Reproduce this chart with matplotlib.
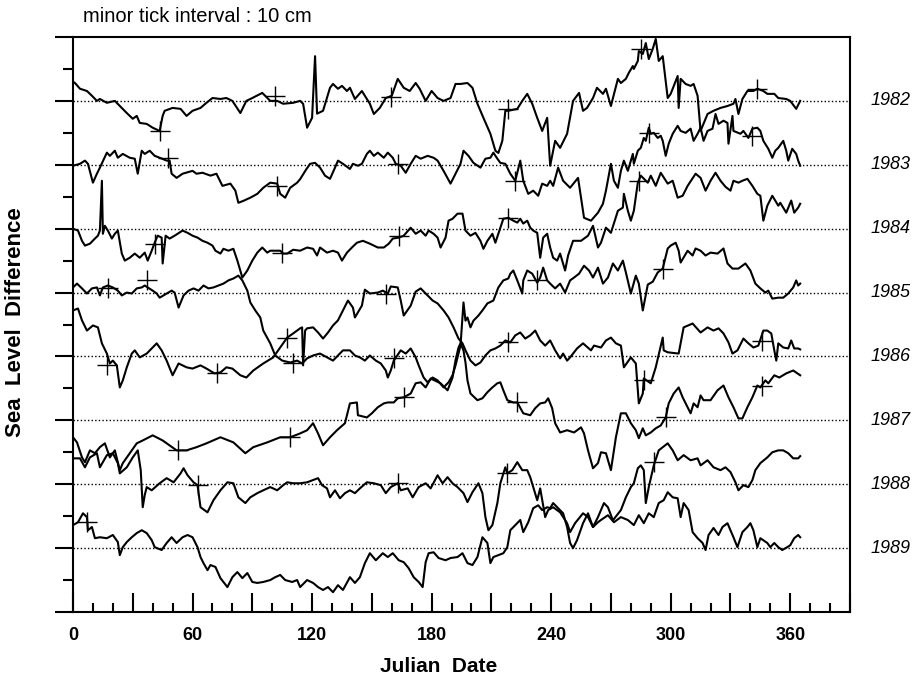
import numpy as np
import matplotlib
matplotlib.use("Agg")
import matplotlib.pyplot as plt
import matplotlib.transforms as mtransforms

plt.rcParams['font.family'] = ['Liberation Sans', 'DejaVu Sans']

# sea level difference (cm) against julian day, one list of (day, cm) per year
y1982 = [(0, 6.0), (1, 5.6), (3.5, 3.8), (7, 3.1), (9.5, 1.6), (12, 0), (13.5, 0.6), (17, -0.6), (21, 0),
         (23.5, -1.6), (27, -3.8), (30, -5.6), (32, -4.7), (33.5, -6.9), (37, -7.2), (40, -8.4), (43.5, -9.4),
         (45, -4.7), (46, -3.1), (50, -2.2), (54, -2.5), (57, -4.7), (60, -3.1), (64, -2.2), (67, -0.6),
         (70, 0.9), (74, 0.6), (77, 0.9), (80, 0), (84, -3.8), (87, 0), (90, 0.9), (95, 2.5), (99, 0),
         (102.5, 0), (105.5, -0.9), (110.5, -0.6), (114, 0), (115.5, -0.9), (117.5, -8.4), (120, -5.3),
         (121.5, 14), (122.5, -4), (125.5, -3.1), (129, 4.1), (130.5, 5.3), (133, 3.8), (135, 4.7),
         (137.5, 3.1), (139, 4.1), (141.5, 0.6), (145, 3.1), (146.5, 1.6), (149, -0.9), (151, -4.1),
         (154, -2.2), (157, 0.9), (160, 1.6), (163, 6.9), (166, 4.1), (169, 3.1), (172, 5.6), (174, 3.8),
         (177, 0), (180, 3.1), (183, 0.9), (186, 0), (189.5, 0.9), (192, 5.3), (194.5, 5.3), (198, 5.6),
         (200.5, 4.1), (203, -0.9), (206, -5.3), (209.5, -10.3), (212, -15.6), (213.5, -16.3), (215.5, -12.5),
         (217, -3.1), (218.5, -3.1), (223, -2.5), (225.5, 0), (228, 2.2), (230.5, -0.9), (233, -5.3),
         (235.5, -9.4), (238, -5.3), (239.5, -20.3), (242, -12.5), (244.5, -14.7), (248, -10.3), (251, 0),
         (254, 2.5), (256, -3.1), (258, -2.2), (261, 0.9), (263, 4.1), (266, 2.2), (267.5, 3.8), (270, -1.6),
         (273.5, 6.9), (275, 5.6), (277.5, 6.9), (279, 8.8), (281, 10.9), (281.5, 10), (283.5, 12.5),
         (284, 15.6), (286, 14.7), (287.5, 18.1), (289, 13.1), (291, 16.3), (292.5, 19.4), (294, 12.5),
         (296, 14), (298.5, 0.9), (300, 2.2), (303.5, 7.8), (304, -2.2), (305, 6.9), (307.5, 5.3), (310, 4.7),
         (311.5, 5.3), (313.5, 1.6), (315, -9.4), (318.5, -4.1), (321.5, -3.1), (325, -2.2), (328.5, -1.6),
         (331.5, -0.9), (332.5, 0.6), (334, -4.1), (336, 0.6), (338.5, 3.1), (341.5, 3.1), (343.5, 3.8),
         (346.5, 3.1), (348.5, 2.2), (352, 2.2), (354, 0.9), (358, 0.6), (360, 0), (363, -2.5), (365, 0)]

y1983 = [(0, -0.3), (3.5, 0.3), (6, 1.3), (7.5, 0.3), (10, -5.6), (12, -2.8), (13.5, -0.9), (17, 3.8),
         (18.5, 2.8), (21, 4.4), (22.5, 2.2), (25, 3.4), (28.5, 2.2), (31, 1.9), (32.5, -2.8), (34.5, 4.4),
         (36, 3.4), (38.5, 4.4), (41, 2.8), (43.5, 2.2), (47, 1.3), (48.5, 1.3), (49.5, -2.8), (52, -4.1),
         (55, -2.8), (60, -1.9), (62, -2.8), (65, -2.5), (69, -3.4), (72, -2.8), (75, -6.6), (79, -5.9),
         (81.5, -8.1), (83, -11.9), (85.5, -11.3), (89, -10.3), (92.5, -9.1), (95.5, -7.2), (99, -5.6),
         (102.5, -5.9), (104, -9.1), (106.5, -10.3), (109, -7.2), (112.5, -5.6), (114, -4.5), (117, -1.5),
         (119, 0.3), (121.5, 0.6), (124, -0.9), (126.5, -3.4), (129, -4.4), (131.5, -0.9), (133, 1.3),
         (135.5, 0.3), (139, -1.3), (140.5, 0.3), (143, -0.3), (145, 0.3), (147.5, 3.4), (149, 4.4),
         (151, 2.8), (153, 3.8), (156, 2.2), (158, 3.8), (160.5, 2.2), (162, 0.3), (164.5, -0.3), (167, -2.5),
         (169.5, 0.3), (172, 2.8), (174.5, 1.9), (178, 2.8), (181, 2.2), (183, 1.3), (186, -1.9), (189.5, -5.9),
         (192, -2.8), (194.5, 0.3), (196, 4.4), (198.5, 2.8), (201, 0.6), (204.5, -0.9), (207, 1.9),
         (209.5, 2.2), (211, 3.8), (213, 1.9), (214.5, 0.6), (217, 0.3), (219.5, -2.8), (222, -5), (224.5, 1.3),
         (226, -5), (228.5, -9.1), (231, -8.1), (233.5, -9.7), (235.5, -5.9), (238, -6.6), (239.5, -5),
         (241, -6.6), (243.5, -0.9), (246, -5), (249.5, -7.2), (253.5, -4.1), (256.5, -16.6), (260, -17.5),
         (263.5, -15), (266, -12.2), (267.5, -8.1), (270, 0.3), (271.5, -5), (273.5, -7.2), (275, -1.9),
         (276.5, 1.3), (278.5, -1.9), (281, 3.4), (281.5, 0.3), (283.5, 4.4), (285, 5.3), (286.5, 8.4),
         (287.5, 7.5), (289, 11.6), (290, 9.7), (291.5, 10), (293.5, 8.4), (295, 9.1), (296, 7.5), (297.5, 2.8),
         (299, 6.6), (301, 9.7), (303.5, 12.2), (305, 10.6), (307.5, 10), (310, 11.3), (311.5, 7.5),
         (313.5, 9.7), (315, 11.6), (316.5, 7.5), (318.5, 10.6), (321, 11.3), (322.5, 15.9), (324, 12.8),
         (326.5, 13.8), (328.5, 13.1), (329, 6.6), (331, 15.3), (331.5, 10.6), (335, 9.7), (336.5, 10.6),
         (339, 8.4), (341, 11.3), (343.5, 11.6), (345, 10.6), (346.5, 7.5), (349, 5), (351, 2.2), (352.5, 4.4),
         (354, 5.3), (356.5, 7.5), (358, 4.4), (359, 1.3), (361, 5), (363, 3.4), (364, 1.3), (365, -0.3)]

y1984 = [(0, 0), (2.5, -0.6), (4.5, -3.8), (6, -5.3), (8.5, -4.7), (11, -3.1), (12.5, -2.2), (13.5, -0.6),
         (14.5, 15), (15, -1.6), (16, 0.9), (17.5, -0.6), (19.5, -3.1), (21, -1.6), (22.5, -0.6), (24.5, -7.8),
         (26, -10), (28.5, -9.1), (31, -7.8), (33.5, -9.1), (36, -7.5), (37.5, -10), (39.5, -6.9), (41, -4.4),
         (42.5, -2.2), (44.5, -2.8), (45, -10.9), (46.5, -2.2), (48.5, -3.1), (51, -2.2), (55, -0.6),
         (57.5, -1.3), (60, -2.2), (62.5, -2.8), (65, -3.8), (67.5, -4.4), (70, -5.3), (71.5, -6.9), (74, -7.8),
         (75.5, -6.3), (78, -6.9), (80.5, -6.3), (82.5, -10), (85, -15.3), (87.5, -13.1), (90, -10),
         (92.5, -7.5), (95, -5.9), (97.5, -7.5), (99, -6.9), (101.5, -6.9), (104, -6.9), (105.5, -7.8),
         (107.5, -7.8), (110.5, -6.6), (114, -6.9), (117.5, -5.9), (120.5, -6.3), (122.5, -8.4), (124, -5.9),
         (127.5, -7.5), (130.5, -6.9), (133, -7.5), (135, -10), (137.5, -7.5), (140, -5.9), (142.5, -4.4),
         (145.5, -3.8), (149, -4.7), (153, -5.9), (156, -5.9), (158.5, -4.7), (160.5, -3.1), (163.5, -2.8),
         (166, -2.2), (169.5, 0.3), (172, -1.6), (174.5, -0.6), (177, -2.2), (178.5, -0.6), (181, -1.6),
         (183, -2.8), (184.5, -5.9), (187, -2.8), (188.5, 2.5), (190.5, 3.1), (193, 4.7), (195.5, 4.7),
         (197, -0.6), (199.5, -2.2), (202, -1.3), (204.5, -3.8), (206, -6.3), (208, -3.8), (210.5, -1.6),
         (212, -4.4), (214.5, 0.3), (216, 3.1), (218.5, 3.4), (221, 2.5), (223, 1.9), (224.5, 3.1), (226, 1.6),
         (228, 2.5), (229.5, 0.3), (231, -0.6), (233, -1.3), (234.5, -9.1), (236, -2.8), (238, -1.6),
         (239.5, -5.9), (241, -9.1), (243, -10), (244.5, -7.8), (247, -13.1), (248.5, -8.4), (251, -3.8),
         (255, -3.8), (258.5, -2.2), (261, 0.9), (263.5, -5.9), (265, -4.4), (267.5, 0.3), (270, -1.3),
         (273.5, 5.6), (276, 6.6), (276.5, 10.9), (278.5, 5.6), (280, 2.5), (281.5, 5.6), (283.5, 14.4),
         (285, 16.6), (288.5, 14.4), (290, 16.6), (292.5, 13.4), (295, 17.5), (298.5, 14.1), (301, 15),
         (303.5, 9.7), (306, 10.3), (308.5, 13.4), (312.5, 17.2), (315, 15.9), (317.5, 11.9), (320, 15),
         (322.5, 17.5), (325, 15), (327.5, 13.1), (330, 11.9), (331.5, 15), (334, 14.4), (336, 15),
         (338.5, 15.6), (341, 13.4), (343.5, 10.9), (345, 10.3), (346.5, 2.5), (348.5, 7.2), (351, 10.3),
         (354, 7.2), (355, 8.1), (358, 5), (360.5, 8.8), (362, 5), (364, 6.6), (365, 7.8)]

y1985 = [(0, 1.6), (2, 2.8), (4.5, 1.3), (7, -0.3), (9.5, 1.3), (12, 1.6), (13.5, -0.9), (15, 1.6), (17.5, 2.2),
         (20, 1.6), (22.5, 0.6), (24.5, -0.9), (27, 0), (29.5, -0.3), (32, 1.3), (34.5, 1.6), (36, 2.2),
         (37.5, 1.6), (40, 0.6), (42, -0.3), (43.5, -1.6), (47, -0.3), (49.5, 0.6), (51, 0), (53, -4.7),
         (55.5, -0.9), (58, 0.6), (60.5, 1.3), (63, 0.6), (65.5, 2.2), (68, 1.3), (70.5, 1.6), (73, 2.2),
         (75.5, 2.8), (78, 3.8), (80.5, 4.4), (83, 5.3), (85, 3.8), (87.5, 0.6), (89, -3.1), (91.5, -5.6),
         (94, -7.8), (95.5, -11.9), (99, -15.9), (101.5, -19.7), (105, -21.3), (109, -21.9), (112.5, -21.3),
         (115, -22.2), (117.5, -20.6), (120.5, -19.7), (124, -19.1), (127.5, -20.3), (130.5, -21.3),
         (133, -19.7), (135.5, -18.1), (139, -18.1), (141.5, -19.7), (144, -20.3), (146.5, -21.3), (149, -19.7),
         (152, -21.3), (154.5, -22.2), (157, -24.4), (158, -26.6), (159.5, -24.4), (161, -21.3), (164.5, -18.1),
         (167, -19.1), (169.5, -17.5), (172, -20.3), (173.5, -22.8), (176, -26.6), (178, -28.1), (180.5, -26.6),
         (183, -27.5), (186, -29.7), (188.5, -28.1), (190.5, -25.9), (192, -22.8), (194.5, -16.6), (196, -3.1),
         (197, -8.8), (198, -7.8), (199.5, -10.9), (201, -8.8), (203.5, -7.2), (205.5, -5.6), (208, -3.4),
         (211, -2.5), (213.5, 1.6), (216, 3.8), (218.5, 4.4), (219.5, 5.9), (221, 6.9), (223, 3.8), (224.5, 1.3),
         (225.5, -0.3), (226, 3.8), (228, 6.9), (230.5, 5.9), (233, 3.1), (234.5, 4.7), (236, 7.8), (238, 3.8),
         (239.5, 2.8), (242, 1.3), (244.5, 2.8), (247, 0), (249.5, 3.8), (251.5, 4.7), (254, 5.9), (256.5, 8.4),
         (259, 6.9), (261, 4.7), (263.5, 7.8), (266, 2.8), (268.5, 4.7), (271, 9.1), (273.5, 6.9), (276, 10),
         (277.5, 6.3), (280, -0.3), (282.5, 5.3), (284, 2.8), (286, -5.6), (288.5, 2.5), (291, 3.4),
         (293.5, 6.3), (296, 7.5), (298.5, 13.8), (300, 14.7), (302.5, 15.6), (304, 13.1), (305, 9.4),
         (308.5, 13.1), (311, 11.6), (312.5, 13.8), (315, 13.1), (317.5, 11.6), (320, 12.5), (323.5, 12.2),
         (326.5, 13.8), (328.5, 9.1), (331, 7.5), (334, 7.5), (337.5, 9.1), (340, 6.9), (342.5, 2.8), (345, 1.3),
         (347.5, 0), (349, 0.6), (351, -1.9), (354, -1.6), (356.5, -1.6), (359, -0.3), (361.5, 1.6), (363, 3.8),
         (364, 2.2), (365, 2.8)]

y1986 = [(0, 14.4), (2.5, 15), (4.5, 11.3), (7, 8.1), (10, 9.7), (12.5, 9.1), (14.5, 4.1), (17, 0.9),
         (18.5, -2.2), (20, -1.3), (22, -2.8), (23.5, -9.7), (25, -7.5), (27, -3.4), (29.5, 0.9), (31, 1.9),
         (33.5, -0.3), (37, 0.9), (40, 2.8), (42, 4.1), (44.5, 1.9), (47, -1.3), (50, -5.9), (53, -2.2),
         (57, -3.4), (60, -3.8), (64, -2.8), (67, -3.8), (71, -5.3), (74, -5), (77, -3.4), (80, -3.8), (84, -5.9),
         (87, -6.6), (90.5, -4.4), (95.5, -2.2), (100.5, -0.3), (104, 2.8), (107.5, 5.9), (110.5, 7.2),
         (114, 8.8), (115, 9.1), (115.5, -2.8), (116.5, 8.1), (117.5, 8.8), (120.5, 9.1), (123, 7.5),
         (125.5, 5.6), (128, 7.5), (130.5, 9.7), (133, 11.3), (135.5, 14.4), (138, 17.5), (140.5, 15.3),
         (141.5, 12.2), (145, 15.9), (146.5, 20.9), (149, 19.7), (153, 20), (155.5, 20.6), (158, 19.7),
         (159.5, 21.9), (163, 21.6), (164.5, 17.5), (166, 12.8), (169.5, 15.9), (172, 20.3), (174.5, 21.3),
         (177, 19.7), (180.5, 17.5), (183, 16.6), (186, 14.4), (188.5, 12.2), (191, 9.1), (193.5, 5.6),
         (195.5, 4.1), (197, 1.9), (199.5, -1.3), (202, -2.8), (204.5, -1.9), (207, 0.3), (209.5, 1.9),
         (212, 2.5), (214.5, 3.4), (217, 5), (219.5, 4.4), (222, 6.6), (224.5, 7.5), (227, 5.6), (229.5, 6.6),
         (232, 8.1), (234.5, 5), (237, 3.4), (239.5, 5), (242, 1.9), (244.5, -0.6), (246, 0.9), (248, -1.3),
         (249.5, -0.3), (253, 2.5), (256, 4.1), (260, 1.9), (261.5, 3.4), (265, 2.8), (267.5, 5), (270, 5.9),
         (272.5, 4.1), (275, 3.4), (276.5, -3.4), (280, -0.3), (282.5, -2.2), (284, -14.7), (286, -11.6),
         (286.5, -6.9), (290, -8.4), (292.5, -3.4), (296, 5.9), (296.5, 1.9), (298.5, 1.3), (304, 0.9),
         (306.5, 9.1), (311, 10.3), (315, 7.5), (318.5, 9.1), (321.5, 8.1), (324, 8.8), (326.5, 7.2), (329, 4.4),
         (331, 0.9), (333.5, 1.9), (336.5, 5.6), (339, 4.1), (341.5, 2.8), (344, 3.4), (346.5, 8.1), (348.5, 8.1),
         (350.5, 7.2), (352, 1.9), (353, -1.3), (354, 4.1), (356.5, 2.8), (359, 2.5), (360.5, 5), (362, 2.5),
         (364, 2.5), (365, 2.2)]

y1987 = [(0, -5.3), (2, -6.9), (4.5, -11.6), (6, -13.1), (8.5, -9.4), (11, -10.3), (13.5, -8.4), (16, -7.2),
         (18.5, -11.6), (21, -9.4), (23.5, -15.6), (25, -13.4), (28.5, -10.3), (32, -7.2), (35, -6.3),
         (40, -4.7), (45, -6.3), (52, -9.4), (57, -9.4), (62, -8.4), (67, -7.2), (74, -5.3), (80.5, -6.9),
         (86.5, -10.3), (90.5, -8.4), (97.5, -6.9), (104, -5.3), (109, -5.3), (114, -4.1), (117.5, -3.1),
         (120.5, -0.9), (123, -4.1), (125.5, -7.8), (129, -5.3), (132.5, -3.1), (136.5, -0.9), (139, 5.3),
         (142.5, 5.6), (143, 1.6), (147.5, 0.9), (150, 2.2), (153, 4.1), (156, 5.3), (158, 5.6), (161, 5.6),
         (163, 6.9), (166, 7.2), (169.5, 8.4), (172, 11.6), (174.5, 11.9), (177, 10.3), (179.5, 13.1),
         (184.5, 11.6), (188, 9.4), (190.5, 13.4), (192, 18.8), (193.5, 22.8), (194.5, 24.1), (196, 21.9),
         (197, 18.1), (198, 12.5), (199.5, 8.4), (203, 6.3), (205.5, 6.9), (208, 8.8), (210.5, 10.3), (213, 11.6),
         (214.5, 11.9), (216, 9.4), (218, 6.3), (221, 5.6), (223, 5.6), (226, 2.2), (229.5, 1.6), (232, 3.8),
         (234.5, 5.3), (237, 5.6), (238.5, 6.9), (240.5, 3.8), (242, -0.9), (244.5, -3.8), (248, -3.1),
         (251.5, -3.8), (255, -2.2), (256.5, -4.1), (258.5, -9.4), (261, -15), (263.5, -13.4), (265, -10),
         (267.5, -10.3), (270, -15.6), (272.5, -5.3), (275, 2.2), (277.5, 2.2), (280, -0.9), (282.5, -3.1),
         (284, -5.6), (286, -2.5), (287.5, -4.7), (290, -3.8), (292.5, -2.5), (295, -1.6), (297.5, 0.9),
         (299, 5.3), (301.5, 8.4), (304, 10.3), (306, 7.2), (307.5, 5.3), (310, 2.2), (311.5, 5.3), (313.5, 4.1),
         (315, 7.8), (316.5, 6.3), (320, 6.3), (323.5, 9.4), (326.5, 10.9), (329, 7.2), (331.5, 4.1),
         (334, 0.6), (336, 0.6), (338.5, 4.1), (341, 7.2), (343.5, 10.9), (345, 10.3), (347.5, 12.5),
         (349, 11.6), (352, 14.1), (354.5, 13.4), (358, 14.7), (361.5, 15.6), (365, 14.1)]

y1988 = [(0, 8.1), (3.5, 8.1), (6, 5.3), (8.5, 8.4), (12, 9.7), (13.5, 5.3), (17, 9.1), (20, 9.7), (22.5, 6.6),
         (23.5, 3.4), (27, 5.3), (30, 8.4), (32.5, 10.6), (34, 4.4), (35, -7.2), (36, -3.4), (37, -0.9),
         (39.5, -1.9), (43.5, 0.3), (47, 1.9), (50.5, 0.6), (54, 3.4), (55.5, 5), (57.5, 2.8), (60.5, 0.6),
         (62.5, -0.3), (64, -7.2), (67.5, -8.8), (70.5, -5), (74, -1.9), (77.5, 0.6), (80.5, 0.3), (83, -4.1),
         (86.5, -5.9), (89, -4.1), (92.5, -2.8), (95.5, -1.9), (99, -0.9), (102.5, -1.9), (105.5, -0.3),
         (107.5, 0.6), (110.5, 0.3), (114, 0.3), (117.5, 0.6), (120.5, 1.3), (123, 1.9), (125, -0.3),
         (127.5, -1.3), (129, -4.1), (131.5, -1.9), (134, -4.4), (136.5, -2.8), (139, -1.9), (141.5, -2.8),
         (144, -1.3), (147.5, 0.6), (151, 0.3), (154.5, -0.3), (157, -2.8), (159.5, -0.9), (163, 0.3),
         (164.5, -1.9), (168, -1.3), (170.5, -4.1), (173.5, -0.9), (177, 0.3), (179.5, -1.3), (183, 2.8),
         (185.5, 0.3), (188, 2.2), (190.5, 0.3), (193, -0.9), (196, -2.8), (198, -5.6), (200.5, -2.5),
         (203.5, 0.3), (205.5, -2.8), (207, -10.3), (208.5, -14.4), (210.5, -12.8), (213, -5.9), (214.5, 0.3),
         (217, 5.3), (218, 3.4), (220.5, 4.4), (223, 6.9), (225.5, 4.4), (228, 4.4), (229.5, 2.2), (231, -0.9),
         (233, -5), (234.5, -1.3), (237, -10.3), (238.5, -8.1), (241, -7.2), (244.5, -8.8), (248, -12.2),
         (249.5, -15), (252, -12.2), (256, -9.1), (258.5, -10.3), (261, -13.4), (263.5, -10.3), (266.5, -5.9),
         (268.5, -7.2), (271, -11.3), (275, -8.1), (277.5, -4.1), (280, -0.9), (281.5, 0.3), (283.5, 5),
         (285, 5.9), (286.5, 4.4), (287.5, -5.9), (289, -0.9), (291.5, 5.9), (294, 10.6), (298.5, 12.8),
         (301, 10.6), (303.5, 7.5), (306.5, 9.1), (310, 7.5), (313.5, 8.1), (315, 5.9), (318.5, 7.5),
         (321.5, 5.3), (325, 4.4), (327.5, 5.3), (330, 3.8), (332.5, 0.6), (334, -1.9), (336.5, -0.3),
         (339, -0.9), (341, 1.3), (342.5, 4.4), (345, 6.6), (348.5, 8.4), (351, 10), (354, 10.6), (356.5, 10.6),
         (359, 9.7), (361.5, 8.1), (364, 8.1), (365, 8.8)]

y1989 = [(0, 7.2), (2.5, 8.1), (5, 10.9), (7, 9.7), (7.5, 5.6), (9.5, 6.6), (11, 3.1), (13.5, 3.4), (17, 3.1),
         (20, 4.1), (22.5, 1.9), (23.5, -2.2), (25, 0.3), (27, 1.9), (29.5, 3.4), (32, 4.7), (34.5, 5.6),
         (37, 4.7), (39.5, 2.5), (41, 0.3), (44.5, -0.6), (47, 1.6), (49.5, 3.4), (52, 1.6), (55, 3.4),
         (57.5, 4.1), (60, 3.4), (62.5, 0.3), (64, -2.8), (65.5, -4.7), (67.5, -6.9), (69, -5.3), (71.5, -5.9),
         (74, -9.4), (77.5, -12.2), (80, -9.1), (82.5, -7.5), (85, -9.4), (87.5, -7.8), (90, -10.6),
         (92.5, -10.9), (95.5, -10.6), (99, -10), (101.5, -9.1), (104, -8.4), (106.5, -10), (110, -10.6),
         (112.5, -10), (114, -12.2), (117.5, -10), (120.5, -10.9), (123, -12.2), (125.5, -13.1), (128, -12.2),
         (130.5, -13.8), (133, -11.6), (135.5, -13.1), (139, -9.1), (141.5, -10.9), (144, -9.1), (146.5, -4.7),
         (149, -1.6), (152, -3.8), (155.5, -1.6), (158, -2.8), (160.5, -1.6), (163.5, -3.8), (166, -4.4),
         (168.5, -6.3), (171, -9.1), (173.5, -10.6), (175.5, -12.2), (177, -4.4), (178.5, -1.6), (181, -1.3),
         (183.5, -3.1), (187, -3.8), (189.5, -3.1), (193, -2.8), (195.5, -1.6), (198, -4.7), (200.5, -5.3),
         (203, -2.8), (205.5, 3.4), (208, 1.6), (209.5, -4.7), (211, -2.8), (213.5, -2.2), (216, -1.6),
         (218, 0.3), (219.5, 5.6), (222, 7.2), (224.5, 8.8), (226, 5), (228.5, 8.1), (231, 12.5), (233.5, 13.4),
         (235.5, 11.9), (238, 12.8), (239.5, 12.5), (241, 14.1), (243.5, 12.5), (246, 10.9), (248, 6.6),
         (249.5, 1.6), (251, 0), (253, 2.5), (256, 7.8), (258.5, 10.9), (261, 6.6), (263.5, 8.1), (265, 8.8),
         (268.5, 10.3), (271.5, 8.1), (275, 9.7), (278.5, 8.8), (281.5, 7.2), (284, 10.3), (286.5, 7.8),
         (289, 10.9), (291.5, 9.7), (294, 14.1), (296.5, 15), (298.5, 17.5), (301, 15.9), (303.5, 15.6),
         (305, 9.7), (306.5, 14.1), (309, 11.9), (311, 5), (313.5, 3.1), (316, 1.6), (317.5, -0.6), (319, 4.1),
         (321.5, 6.3), (324, 4.1), (326, 6.6), (328.5, 7.8), (330, 5.6), (331.5, 3.4), (333.5, 0.3), (336, 5),
         (338.5, 6.6), (340, 7.8), (341.5, 5.6), (343.5, 0.3), (345, 3.1), (348.5, 1.6), (350, 0.3), (352, 1.6),
         (354, 0.3), (356, -0.6), (358.5, 0.3), (360, 0.9), (362, 3.1), (364, 4.1), (365, 3.4)]

# cross marks drawn on each record
marks1982 = [(43.5, -9.4), (101.5, 1.6), (159.5, 1.3), (218.5, -2.5), (285, 16.3), (343.5, 3.8)]
marks1983 = [(47.5, 2.2), (102.5, -6.6), (163, 0.3), (222, -5), (289, 10), (341, 9.1)]
marks1984 = [(41, -4.7), (105, -7.5), (163.5, -2.2), (218.5, 3.4), (284, 15)]
marks1985 = [(17.5, 1.3), (37, 3.8), (110.5, -21.9), (161, -20.6), (233, 3.8), (296, 7.5)]
marks1986 = [(17, -2.8), (72.5, -5.3), (107.5, 5.9), (157, 19.7), (218.5, 4.4), (286.5, -7.5), (346, 4.7)]
marks1987 = [(52.5, -9.4), (109, -5.3), (166, 7.2), (223, 5.6), (297.5, 0.9), (346, 10.9)]
marks1988 = [(62.5, -0.3), (163, 0.3), (218, 3.4), (291.5, 6.9)]
marks1989 = [(7, 8.1)]

years = ['1982', '1983', '1984', '1985', '1986', '1987', '1988', '1989']
records = [y1982, y1983, y1984, y1985, y1986, y1987, y1988, y1989]
marks = [marks1982, marks1983, marks1984, marks1985, marks1986, marks1987, marks1988, marks1989]
offsets = [140, 120, 100, 80, 60, 40, 20, 0]

fig = plt.figure(figsize=(9.17, 6.79), dpi=100)
ax = fig.add_axes([73 / 917, 1 - 612 / 679, 777 / 917, 575 / 679])

trans = mtransforms.blended_transform_factory(ax.transAxes, ax.transData)
for name, rec, mk, off in zip(years, records, marks, offsets):
    ax.axhline(off, color='k', lw=1.0, ls=(0, (1, 1.6)), zorder=1)
    d = np.array([p[0] for p in rec])
    v = np.array([p[1] for p in rec])
    ax.plot(d, v + off, color='k', lw=1.5, zorder=3)
    md = np.array([p[0] for p in mk])
    mv = np.array([p[1] for p in mk])
    ax.plot(md, mv + off, ls='none', marker='+', ms=14, mew=1.0, color='k', zorder=4)
    ax.text(1.026, off, name, transform=trans, ha='left', va='center',
            fontsize=13, style='italic', clip_on=False)

ax.set_xlim(0, 390)
ax.set_ylim(-20, 160)

ax.set_xticks(np.arange(0, 391, 30))
ax.set_xticks(np.arange(0, 391, 10), minor=True)
ax.set_xticklabels([str(t) if t % 60 == 0 else '' for t in range(0, 391, 30)],
                   fontsize=13, fontweight='bold')
ax.tick_params(axis='x', which='major', direction='in', length=13.5, width=1.5, pad=11)
ax.tick_params(axis='x', which='minor', direction='in', length=6.5, width=1.5)

ax.set_yticks(np.arange(-20, 161, 20))
ax.set_yticks(np.arange(-10, 160, 20), minor=True)
ax.set_yticklabels([])
ax.tick_params(axis='y', which='major', direction='out', length=13, width=1.5)
ax.tick_params(axis='y', which='minor', direction='out', length=7, width=1.5)

for s in ax.spines.values():
    s.set_linewidth(1.5)

fig.text(83 / 917, 1 - 17 / 679, 'minor tick interval : 10 cm', fontsize=14.5, va='center', ha='left')
fig.text(16 / 917, 1 - 322 / 679, 'Sea  Level  Difference', rotation=90, fontsize=16,
         fontweight='bold', va='center', ha='center')
fig.text(439 / 917, 1 - 667 / 679, 'Julian  Date', fontsize=15, fontweight='bold',
         va='center', ha='center')

fig.savefig('out.png', dpi=100)
